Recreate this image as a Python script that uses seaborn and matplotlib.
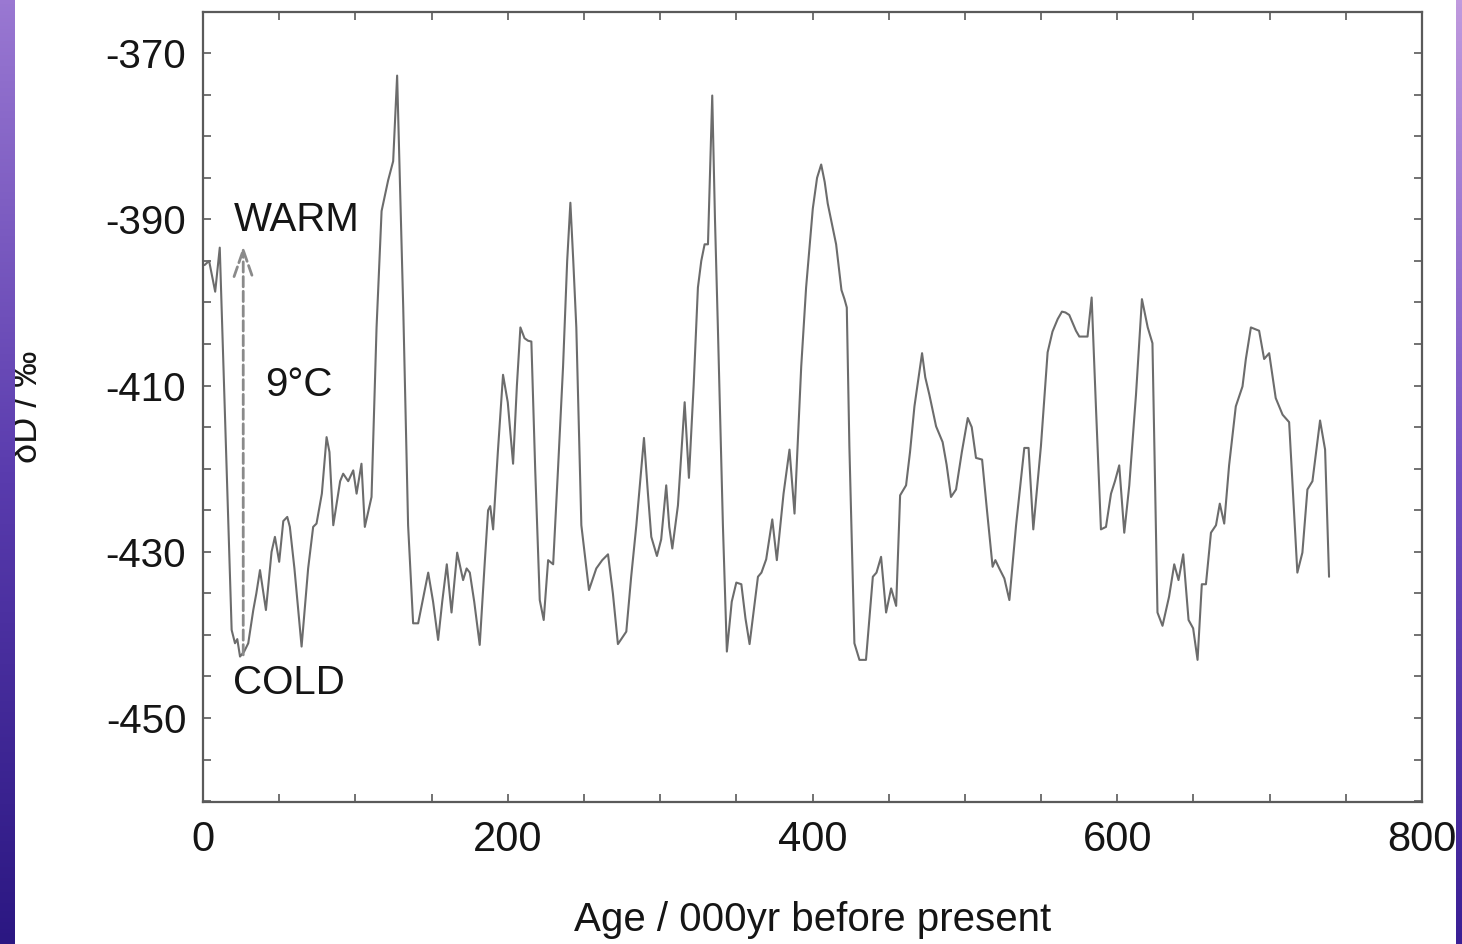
"""Deuterium record of ice-core temperatures over 740 kyr (reference recreation)."""

import matplotlib
matplotlib.use('agg')
import matplotlib.pyplot as plt
import numpy as np
import seaborn as sns
from matplotlib.colors import LinearSegmentedColormap
from matplotlib.ticker import MultipleLocator

# age in thousands of years before present
AGE = [1, 4, 8, 11, 18.8, 21, 22.5, 24.3, 27, 29.7, 33, 35, 37.4, 41.3, 45,
       47.2, 50, 52.7, 55.3, 57, 60, 64.7, 69, 72.3, 74.5, 78, 81.1, 83,
       85.5, 90, 92, 95.3, 98.6, 100.8, 104, 106.2, 110.6, 113.9, 117.2,
       121.5, 124.8, 127.4, 131.4, 134.6, 137.9, 141.2, 144, 147.8, 151,
       154.3, 157, 160, 163.1, 166.8, 170.7, 173, 175.1, 178, 181.6, 185,
       187.1, 188.5, 190.4, 193.5, 196.9, 200, 203.5, 206, 208.3, 211,
       213.3, 215.5, 218, 221, 223.6, 226.5, 229.8, 233, 236.3, 239, 241.1,
       243, 245, 248.3, 253.3, 258.1, 262, 265.8, 269, 272.3, 277.8, 281,
       284.4, 289.4, 292, 294.2, 297.9, 300.7, 304, 306, 308, 311.7, 316.1,
       318.9, 322, 324.8, 327, 329.2, 331.4, 334.2, 336, 337.9, 341.2,
       343.8, 347, 350, 353.3, 356, 358.7, 361.5, 364.2, 366.5, 369.6,
       373.6, 376.6, 381, 384.9, 388.2, 390.5, 392.6, 395.8, 400.2, 403,
       405.7, 408, 410, 415.5, 419, 421, 422.5, 424.2, 427.5, 430.8, 435.1,
       439.6, 442, 445, 448.3, 451.6, 454.9, 457.5, 461.4, 464, 466.9,
       471.9, 474, 476.7, 481.1, 485.4, 488, 490.9, 494.2, 498, 501.9,
       504.5, 507.3, 511.3, 514.5, 518.2, 520, 522.6, 525.9, 529.2, 533.6,
       537, 539, 541.8, 544.9, 549.9, 554.3, 557.5, 560.9, 563.7, 566,
       568.5, 572.9, 575.1, 580.5, 583.2, 586, 589.3, 592.6, 595.9, 598.5,
       601.3, 604.6, 607.9, 612.3, 616.2, 620, 623.1, 626.4, 629.7, 634,
       637.4, 640.2, 643.3, 646.8, 649.8, 652.7, 655.5, 658.2, 661.5,
       664.8, 667.3, 670.2, 673.4, 677.8, 682.2, 684.4, 687.7, 690.5,
       693.1, 696.4, 699.7, 704, 708.5, 712.8, 718.2, 721.5, 724.8, 728.1,
       733.1, 736.4, 739]

# deuterium ratio dD in per mil
DELTA_D = [-395.5, -395, -398.7, -393.4, -439.4, -441, -440.5, -442.6, -442,
           -441, -437, -435, -432.2, -437, -430, -428.2, -431.2, -426.3,
           -425.8, -427, -432, -441.4, -432, -427, -426.6, -423, -416.2,
           -418, -426.8, -421.5, -420.6, -421.5, -420.2, -423, -419.4, -427,
           -423.4, -403, -389, -385.3, -383, -372.7, -400.6, -426.8, -438.6,
           -438.6, -436, -432.5, -436, -440.6, -436, -431.5, -437.3, -430.1,
           -433.4, -432, -432.5, -436, -441.2, -431, -425, -424.5, -427.3,
           -418, -408.7, -412, -419.4, -410, -403, -404.3, -404.6, -404.7,
           -420, -435.8, -438.2, -431, -431.5, -420, -407.7, -395, -388,
           -395, -403, -426.8, -434.6, -432, -431, -430.3, -435, -441.1,
           -439.6, -433, -426.8, -416.3, -423, -428.2, -430.5, -428.5, -422,
           -427, -429.6, -424.4, -412, -421.1, -410, -398.2, -395, -393,
           -393, -375.1, -390, -403, -426.8, -442, -436, -433.7, -433.9,
           -438, -441.1, -437, -433, -432.5, -430.9, -426.1, -431, -423,
           -417.7, -425.4, -416, -407.7, -398.2, -388.7, -385, -383.4,
           -385.5, -388.1, -393, -398.5, -399.6, -400.6, -417.3, -441, -443,
           -443, -433, -432.5, -430.6, -437.3, -434.4, -436.5, -423.2, -422,
           -418, -412.5, -406.1, -409, -411.1, -414.9, -416.8, -419.5,
           -423.4, -422.5, -418, -413.9, -415, -418.7, -418.9, -425, -431.8,
           -431, -432, -433.2, -435.8, -426.8, -421, -417.5, -417.5, -427.3,
           -417.3, -406, -403.5, -402, -401.1, -401.2, -401.5, -403.4,
           -404.1, -404.1, -399.4, -412.5, -427.3, -427, -423, -421.5,
           -419.6, -427.7, -422, -411.1, -399.6, -403, -404.9, -437.3,
           -438.9, -435.4, -431.5, -433.4, -430.3, -438.2, -439.2, -443,
           -433.9, -433.9, -427.7, -426.8, -424.2, -426.6, -419.6, -412.5,
           -410.1, -406.8, -403, -403.2, -403.4, -406.8, -406.1, -411.5,
           -413.5, -414.4, -432.5, -430.1, -422.5, -421.5, -414.2, -417.7,
           -433]

X_TICKS = [0, 200, 400, 600, 800]
Y_TICKS = [-450, -430, -410, -390, -370]

LINE_COLOR = '#6c6c6c'
FRAME_COLOR = '#5a5a5a'
TEXT_COLOR = '#151515'

sns.set_style('white')
plt.rcParams['font.family'] = ['Liberation Sans', 'DejaVu Sans']
plt.rcParams['axes.unicode_minus'] = False

fig = plt.figure(figsize=(14.62, 9.44), dpi=100)
fig.patch.set_facecolor('white')
ax = fig.add_axes([203 / 1462, 1 - 802 / 944, (1422 - 203) / 1462, (802 - 12) / 944])

sns.lineplot(x=AGE, y=DELTA_D, ax=ax, color=LINE_COLOR, linewidth=1.5,
             sort=False, estimator=None)

ax.set_xlim(0, 800)
ax.set_ylim(-460.1, -365.05)

# frame and inward ticks on all four sides
for spine in ax.spines.values():
    spine.set_visible(True)
    spine.set_color(FRAME_COLOR)
    spine.set_linewidth(1.6)

ax.set_xticks(X_TICKS)
ax.set_yticks(Y_TICKS)
ax.xaxis.set_minor_locator(MultipleLocator(50))
ax.yaxis.set_minor_locator(MultipleLocator(5))
ax.tick_params(which='both', direction='in', top=True, right=True,
               bottom=True, left=True, color=FRAME_COLOR, width=1.2, length=6)
ax.tick_params(axis='y', which='major', labelsize=29, pad=12, labelcolor=TEXT_COLOR)
ax.tick_params(axis='x', which='major', labelsize=30, pad=13, labelcolor=TEXT_COLOR)
ax.grid(False)

ax.set_xlabel('Age / 000yr before present', fontsize=29, color=TEXT_COLOR)
ax.xaxis.set_label_coords(0.5, -0.125)
ax.set_ylabel('')
fig.text(0.019, 1 - 407 / 944, 'δD / ‰', rotation=90, fontsize=26,
         color=TEXT_COLOR, ha='center', va='center')

# warm / cold annotation with the dashed range arrow
ax.annotate('', xy=(26.4, -393.2), xytext=(26.4, -442.4),
            arrowprops=dict(arrowstyle='->,head_length=0.95,head_width=0.33',
                            mutation_scale=20, linestyle='--', color='#8a8a8a',
                            lw=2, shrinkA=0, shrinkB=0))
ax.text(20.3, -390.1, 'WARM', fontsize=29, color=TEXT_COLOR, ha='left', va='center')
ax.text(40.7, -409.9, '9°C', fontsize=29, color=TEXT_COLOR, ha='left', va='center')
ax.text(19.7, -445.8, 'COLD', fontsize=29, color=TEXT_COLOR, ha='left', va='center')

# purple slide edges on both sides
gradient = np.linspace(0, 1, 256).reshape(-1, 1)
left_cmap = LinearSegmentedColormap.from_list('left', ['#9a78d2', '#5a3cae', '#2b1782'])
right_cmap = LinearSegmentedColormap.from_list('right', ['#c09ade', '#7452c2', '#3a1f95'])
for pos, cmap in [([0, 0, 15 / 1462, 1], left_cmap),
                  ([1456 / 1462, 0, 6 / 1462, 1], right_cmap)]:
    strip = fig.add_axes(pos, zorder=10)
    strip.imshow(gradient, aspect='auto', cmap=cmap)
    strip.axis('off')

fig.savefig('out.png', dpi=100)
